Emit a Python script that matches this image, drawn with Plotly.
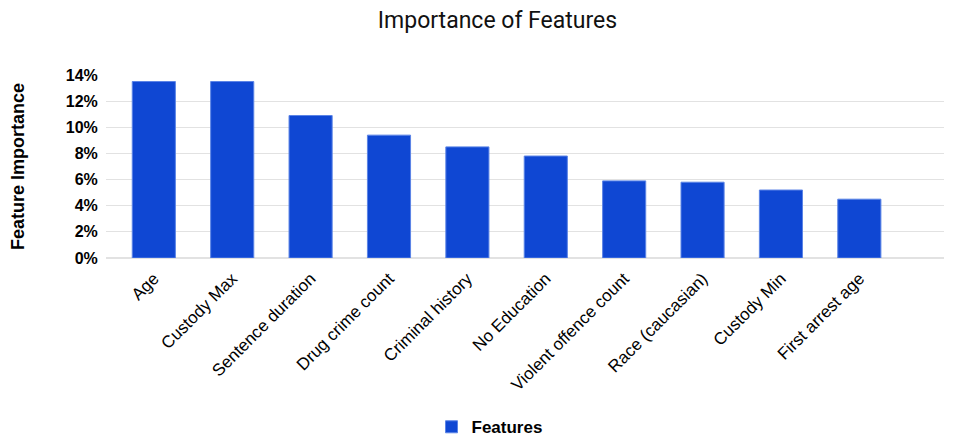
import plotly.graph_objects as go

features = ["Age", "Custody Max", "Sentence duration", "Drug crime count",
            "Criminal history", "No Education", "Violent offence count",
            "Race (caucasian)", "Custody Min", "First arrest age"]
importance = [0.135, 0.135, 0.109, 0.094, 0.085, 0.078, 0.059, 0.058, 0.052, 0.045]

fig = go.Figure()
fig.add_trace(go.Bar(x=features,
                     y=importance,
                     name="Features",
                     width=0.55,
                     marker=dict(color="#0f47d3", line=dict(color="#5b84e6", width=1)),
                     showlegend=True
                     ))

# page body has an 8px margin, so margins are shifted to compensate
fig.update_layout(
    width=956,
    height=446,
    plot_bgcolor="white",
    paper_bgcolor="white",
    font=dict(family="Liberation Sans, Arial", color="#000000"),
    title=dict(text="Importance of Features", x=0.512, xanchor="center", y=0.973, yanchor="middle",
               font=dict(family="Roboto", size=23, color="#111111")),
    margin=dict(l=98, r=20, t=67, b=196),
    xaxis=dict(range=[-0.61, 10.08], tickangle=-45, showgrid=False, showline=False,
               ticks="outside", ticklen=3, tickcolor="rgba(0,0,0,0)", automargin=False,
               tickfont=dict(size=17, color="#000000")),
    yaxis=dict(range=[0, 0.14], dtick=0.02, tickformat=".0%", showgrid=True,
               gridcolor="#e2e2e2", gridwidth=1, zeroline=True, zerolinecolor="#e2e2e2",
               ticks="outside", ticklen=4, tickcolor="rgba(0,0,0,0)", automargin=False,
               tickfont=dict(size=16, color="#000000", weight="bold"),
               title=dict(text="Feature Importance", standoff=42,
                          font=dict(size=18, color="#000000", weight="bold"))),
    legend=dict(orientation="h", xref="container", x=0.443, xanchor="left",
                yref="container", y=0.06, yanchor="middle", itemwidth=30,
                font=dict(size=17, weight="bold")),
)

fig.write_html("out.html")
